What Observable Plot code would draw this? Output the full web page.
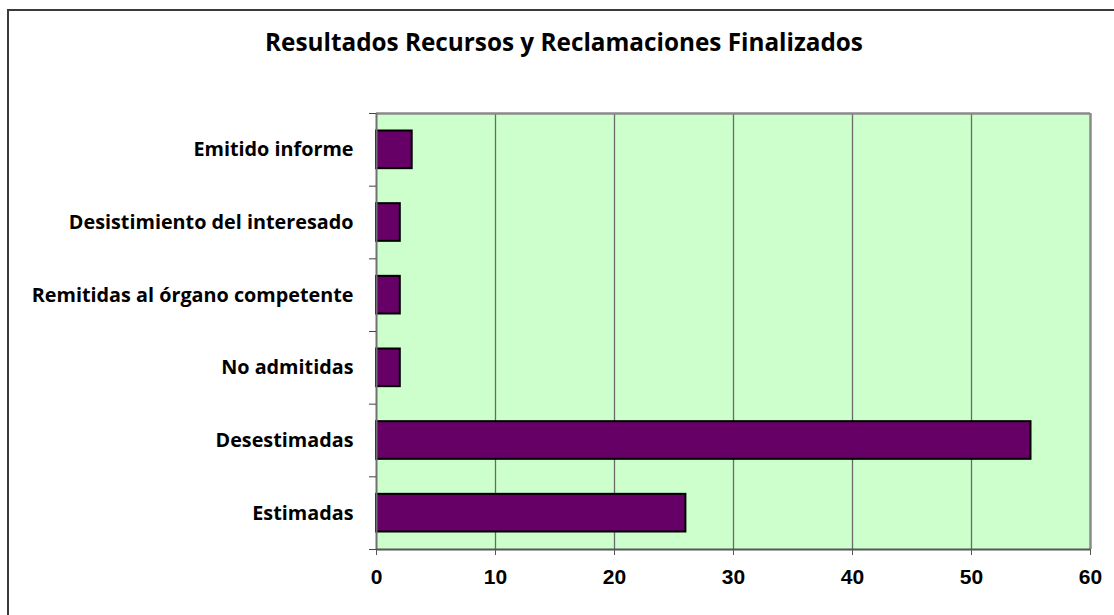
<!DOCTYPE html>
<html>
<head>
<meta charset="utf-8">
<script src="https://cdn.jsdelivr.net/npm/d3@7"></script>
<script src="https://cdn.jsdelivr.net/npm/@observablehq/plot@0.6"></script>
<style>
  html, body { margin: 0; padding: 0; background: #fff; }
  #wrap { position: relative; width: 1114px; height: 615px; overflow: hidden; background: #fff; }
  #frame { position: absolute; left: 7px; top: 9px; width: 1300px; height: 800px; border: 2px solid #3a3a3a; box-sizing: border-box; }
  #title { position: absolute; left: 0; width: 1128px; top: 26px; text-align: center; font-family: "Open Sans", Lato, sans-serif; font-weight: 700; font-size: 24.3px; color: #000; line-height: 1.3; }
  #chart { position: absolute; left: 0; top: 0; }
</style>
</head>
<body>
<div id="wrap">
  <div id="frame"></div>
  <div id="title">Resultados Recursos y Reclamaciones Finalizados</div>
  <div id="chart"></div>
</div>
<script>
const categories = [
  "Emitido informe",
  "Desistimiento del interesado",
  "Remitidas al órgano competente",
  "No admitidas",
  "Desestimadas",
  "Estimadas"
];
const values = [3, 2, 2, 2, 55, 26];
const xTicks = [0, 10, 20, 30, 40, 50, 60];

const data = categories.map((c, i) => ({cat: c, idx: i, value: values[i]}));

const plot = Plot.plot({
  width: 1114,
  height: 615,
  marginLeft: 376,
  marginRight: 24,
  marginTop: 113,
  marginBottom: 66,
  style: {background: "transparent", overflow: "visible"},
  x: {domain: [0, 60], ticks: xTicks, label: null},
  y: {domain: [0, 6], reverse: true, label: null},
  marks: [
    Plot.frame({fill: "#CCFFCC", stroke: null}),
    Plot.gridX(xTicks.slice(1, -1), {stroke: "#6a6a6a", strokeOpacity: 1, strokeWidth: 1.3}),
    Plot.ruleY([0], {stroke: "#8a8a8a", strokeWidth: 2.5}),
    Plot.ruleX([60], {stroke: "#8a8a8a", strokeWidth: 2.5}),
    Plot.rectX(data, {
      x1: 0, x2: "value",
      y1: "idx", y2: d => d.idx + 1,
      insetTop: 17.5, insetBottom: 17.5,
      fill: "#660066", stroke: "#000", strokeWidth: 2
    }),
    Plot.ruleX([0], {stroke: "#707070", strokeWidth: 2}),
    Plot.ruleY([6], {stroke: "#555", strokeWidth: 2}),
    Plot.axisY(d3.range(0, 7), {tickSize: 7, tickFormat: () => "", stroke: "#444", label: null}),
    Plot.text(data, {
      x: 0, y: d => d.idx + 0.5, text: "cat",
      dx: -23, textAnchor: "end",
      fontFamily: "'Open Sans', Lato, sans-serif", fontWeight: 700, fontSize: 19.8, fill: "#000"
    }),
    Plot.axisX(xTicks, {tickSize: 6, tickFormat: () => "", stroke: "#555", label: null}),
    Plot.text(xTicks, {
      x: d => d, y: 6, text: d => String(d), dy: 28, lineAnchor: "middle", textAnchor: "middle",
      fontFamily: "'Liberation Sans', Arial, sans-serif", fontWeight: 700, fontSize: 21, fill: "#000"
    })
  ]
});
document.getElementById("chart").appendChild(plot);
</script>
</body>
</html>
